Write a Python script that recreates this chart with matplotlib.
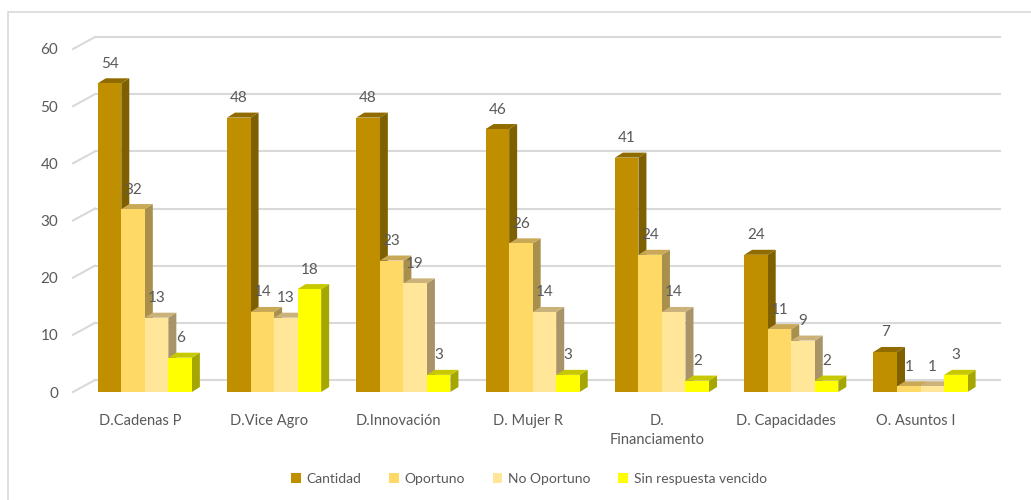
import numpy as np
import matplotlib
matplotlib.use("Agg")
import matplotlib.pyplot as plt
from matplotlib.patches import Polygon, Rectangle, Patch
from matplotlib.transforms import offset_copy

plt.rcParams['font.family'] = ['Lato', 'DejaVu Sans']

# datos
categorias = ['D.Cadenas P', 'D.Vice Agro', 'D.Innovación', 'D. Mujer R',
              'D.\nFinanciamento', 'D. Capacidades', 'O. Asuntos I']
series = ['Cantidad', 'Oportuno', 'No Oportuno', 'Sin respuesta vencido']
cantidad = [54, 48, 48, 46, 41, 24, 7]
oportuno = [32, 14, 23, 26, 24, 11, 1]
no_oportuno = [13, 13, 19, 14, 14, 9, 1]
sin_respuesta = [6, 18, 3, 3, 2, 2, 3]
valores = [cantidad, oportuno, no_oportuno, sin_respuesta]

# colores: frente, lado, arriba
frente = ['#BF8F00', '#FFD966', '#FFE699', '#FFFF00']
lado = ['#7F6000', '#A88F4C', '#A89468', '#A6A600']
arriba = ['#8F6B00', '#C9A956', '#CBB27A', '#C8C800']
gris = '#595959'

W, H, DPI = 1031, 500, 100
fig = plt.figure(figsize=(W / DPI, H / DPI), dpi=DPI)
fig.patch.set_facecolor('white')

# marco del grafico
fig.patches.append(Rectangle((8 / W, -0.1), 1.2, (H - 12) / H + 0.1,
                             transform=fig.transFigure, fill=False,
                             edgecolor='#d9d9d9', lw=1.2))

x0, x1 = 75, 980       # frente, px
yb, yt = 392, 49       # base y 60, px
ax = fig.add_axes([x0 / W, (H - yb) / H, (x1 - x0) / W, (yb - yt) / H])
ax.set_xlim(-0.54, 6.46)
ax.set_ylim(0, 60)
for s in ax.spines.values():
    s.set_visible(False)

px_x = (x1 - x0) / 7.0
px_y = (yb - yt) / 60.0

# pared del fondo (rejilla desplazada)
gdx, gdy = 20, 12
back = offset_copy(ax.transData, fig=fig, x=gdx, y=gdy, units='dots')
xl = ax.get_xlim()
for v in range(0, 61, 10):
    ax.plot([xl[0], xl[1]], [v, v], color='#d9d9d9', lw=1.5,
            transform=back, clip_on=False, zorder=0)
    ax.plot([xl[0] - 2 / px_x, xl[0] + gdx / px_x], [v, v + gdy / px_y],
            color='#d9d9d9', lw=1.5, clip_on=False, zorder=0)

# barras con efecto 3D
w = 0.182
ddx = 8 / px_x
ddy = 5 / px_y
xs = np.arange(len(categorias))
for i in xs:
    for k in range(4):
        v = valores[k][i]
        xl_ = i + (k - 2) * w
        xr = xl_ + w
        z = 2 + i * 4 + k
        ax.add_patch(Polygon([(xr, 0), (xr + ddx, ddy), (xr + ddx, v + ddy), (xr, v)],
                             closed=True, facecolor=lado[k], edgecolor='none',
                             zorder=z, clip_on=False))
        ax.add_patch(Polygon([(xl_, v), (xl_ + ddx, v + ddy), (xr + ddx, v + ddy), (xr, v)],
                             closed=True, facecolor=arriba[k], edgecolor='none',
                             zorder=z, clip_on=False))
        ax.bar(xl_, v, width=w, align='edge', color=frente[k], zorder=z + 0.5)
        ax.annotate(str(v), (xl_ + w / 2, v), xytext=(0, 9), textcoords='offset points',
                    ha='center', va='bottom', fontsize=11, color=gris,
                    zorder=100)

ax.set_yticks(range(0, 61, 10))
ax.set_xticks(xs - 5 / px_x)
ax.set_xticklabels(categorias, fontsize=10.5, color=gris, linespacing=1.45)
ax.tick_params(axis='x', length=0, pad=16)
ax.tick_params(axis='y', length=0, pad=12, labelsize=11, labelcolor=gris)

handles = [Patch(facecolor=frente[k], edgecolor='none') for k in range(4)]
fig.legend(handles, series, loc='center', bbox_to_anchor=(529 / W, 21 / H),
           ncol=4, frameon=False, fontsize=10, labelcolor=gris,
           handlelength=0.7, handleheight=0.7, handletextpad=0.4, columnspacing=2.0)

fig.savefig('out.png', dpi=DPI)
